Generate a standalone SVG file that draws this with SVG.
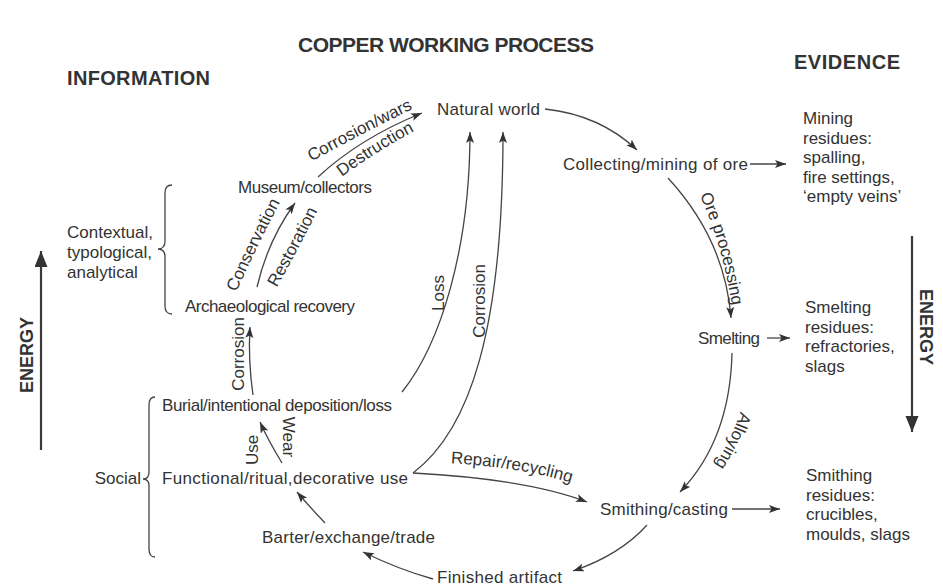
<svg xmlns="http://www.w3.org/2000/svg" width="943" height="587" viewBox="0 0 943 587">
  <style>
    text { font-family: "Liberation Sans", Arial, Helvetica, sans-serif; fill: #333; }
    .lbl { font-size: 17px; }
    .edge { font-size: 17px; }
    .head { font-size: 20px; font-weight: bold; }
    .title { font-size: 21px; font-weight: bold; }
    .energy { font-size: 18px; font-weight: bold; }
    .link { fill: none; stroke: #444; stroke-width: 1.3; marker-end: url(#arrow); }
    .brace { fill: none; stroke: #444; stroke-width: 1.3; }
    .bar { fill: none; stroke: #3a3a3a; stroke-width: 2.2; marker-end: url(#bigarrow); }
  </style>
  <defs>
    <marker id="arrow" markerUnits="userSpaceOnUse" markerWidth="12" markerHeight="9" refX="11" refY="4" orient="auto">
      <path d="M0,0 L11,4 L0,8 L2.5,4 z" fill="#333"/>
    </marker>
    <marker id="bigarrow" markerUnits="userSpaceOnUse" markerWidth="17" markerHeight="14" refX="16" refY="6.5" orient="auto">
      <path d="M0,0 L16,6.5 L0,13 z" fill="#333"/>
    </marker>
    <!-- baselines for the curved edge labels -->
    <path id="p-corrwars" d="M300,168 Q360,134 425,103"/>
    <path id="p-destr" d="M322,192 Q375,150 432,122"/>
    <path id="p-conserv" d="M233,300 Q257,245 284,195"/>
    <path id="p-restor" d="M271,298 Q298,250 323,200"/>
    <path id="p-ore" d="M697,190 Q722,240 733,312"/>
    <path id="p-alloy" d="M744,400 Q733,440 708,475"/>
    <path id="p-repair" d="M443,463 Q520,466 578,485"/>
  </defs>

  <rect width="943" height="587" fill="#fff"/>

  <!-- headings -->
  <text class="title" x="446" y="52" text-anchor="middle" textLength="296">COPPER WORKING PROCESS</text>
  <text class="head" x="67" y="85" textLength="143">INFORMATION</text>
  <text class="head" x="794" y="69" textLength="106">EVIDENCE</text>

  <!-- energy scales -->
  <g id="energy-left">
    <line class="bar" x1="41" y1="450" x2="41" y2="251"/>
    <text class="energy" transform="translate(33,355) rotate(-90)" text-anchor="middle">ENERGY</text>
  </g>
  <g id="energy-right">
    <line class="bar" x1="912" y1="236" x2="912" y2="432"/>
    <text class="energy" transform="translate(920,327) rotate(90)" text-anchor="middle">ENERGY</text>
  </g>

  <!-- information groupings -->
  <g id="info-contextual">
    <text class="lbl" x="67" y="238">Contextual,</text>
    <text class="lbl" x="67" y="258">typological,</text>
    <text class="lbl" x="67" y="278">analytical</text>
    <path class="brace" d="M172,185 Q165,185 165,193 L165,241 Q165,249 158,249 Q165,249 165,257 L165,306 Q165,314 172,314"/>
  </g>
  <g id="info-social">
    <text class="lbl" x="141" y="484" text-anchor="end">Social</text>
    <path class="brace" d="M155,397 Q149,397 149,405 L149,472 Q149,479 143,479 Q149,479 149,486 L149,549 Q149,557 155,557"/>
  </g>

  <!-- process nodes -->
  <g id="n-natural"><text class="lbl" x="437" y="115" textLength="103">Natural world</text></g>
  <g id="n-collecting"><text class="lbl" x="563" y="170" textLength="185">Collecting/mining of ore</text></g>
  <g id="n-smelting"><text class="lbl" x="698" y="344" textLength="62">Smelting</text></g>
  <g id="n-smithing"><text class="lbl" x="600" y="515" textLength="128">Smithing/casting</text></g>
  <g id="n-finished"><text class="lbl" x="437" y="583" textLength="125">Finished artifact</text></g>
  <g id="n-barter"><text class="lbl" x="262" y="543" textLength="173">Barter/exchange/trade</text></g>
  <g id="n-functional"><text class="lbl" x="162" y="484" textLength="246">Functional/ritual,decorative use</text></g>
  <g id="n-burial"><text class="lbl" x="162" y="411" textLength="230">Burial/intentional deposition/loss</text></g>
  <g id="n-archaeological"><text class="lbl" x="185" y="312" textLength="170">Archaeological recovery</text></g>
  <g id="n-museum"><text class="lbl" x="238" y="193" textLength="134">Museum/collectors</text></g>

  <!-- evidence column -->
  <g id="ev-mining">
    <text class="lbl" x="803" y="124">Mining</text>
    <text class="lbl" x="803" y="143.5">residues:</text>
    <text class="lbl" x="803" y="163">spalling,</text>
    <text class="lbl" x="803" y="182.5">fire settings,</text>
    <text class="lbl" x="803" y="202">‘empty veins’</text>
  </g>
  <g id="ev-smelting">
    <text class="lbl" x="805" y="313">Smelting</text>
    <text class="lbl" x="805" y="332.5">residues:</text>
    <text class="lbl" x="805" y="352">refractories,</text>
    <text class="lbl" x="805" y="371.5">slags</text>
  </g>
  <g id="ev-smithing">
    <text class="lbl" x="806" y="481">Smithing</text>
    <text class="lbl" x="806" y="500.5">residues:</text>
    <text class="lbl" x="806" y="520">crucibles,</text>
    <text class="lbl" x="806" y="539.5">moulds, slags</text>
  </g>

  <!-- connectors -->
  <g id="connectors">
    <path class="link" d="M545,109 Q600,115 637,150"/>
    <path class="link" d="M668,178 Q725,240 731,318"/>
    <path class="link" d="M732,353 Q730,440 680,492"/>
    <path class="link" d="M647,525 Q620,555 573,571"/>
    <path class="link" d="M433,579 Q400,570 363,552"/>
    <path class="link" d="M325,523 Q308,505 297,492"/>
    <path class="link" d="M282,463 Q268,440 260,422"/>
    <path class="link" d="M253,395 Q248,360 250,327"/>
    <path class="link" d="M257,287 Q268,240 295,203"/>
    <path class="link" d="M318,177 Q360,138 422,113"/>
    <path class="link" d="M402,392 C440,345 470,250 470,132"/>
    <path class="link" d="M413,473 C470,430 503,330 503,132"/>
    <path class="link" d="M413,473 C470,476 540,484 587,502"/>
    <path class="link" d="M750,164 L786,164"/>
    <path class="link" d="M767,338 L790,338"/>
    <path class="link" d="M732,509 L780,509"/>
  </g>

  <!-- connector labels -->
  <g id="edge-labels">
    <text class="edge"><textPath href="#p-corrwars" startOffset="50%" text-anchor="middle">Corrosion/wars</textPath></text>
    <text class="edge"><textPath href="#p-destr" startOffset="52%" text-anchor="middle">Destruction</textPath></text>
    <text class="edge"><textPath href="#p-conserv" startOffset="50%" text-anchor="middle">Conservation</textPath></text>
    <text class="edge"><textPath href="#p-restor" startOffset="50%" text-anchor="middle">Restoration</textPath></text>
    <text class="edge"><textPath href="#p-ore" startOffset="50%" text-anchor="middle">Ore processing</textPath></text>
    <text class="edge"><textPath href="#p-alloy" startOffset="50%" text-anchor="middle">Alloying</textPath></text>
    <text class="edge"><textPath href="#p-repair" startOffset="50%" text-anchor="middle">Repair/recycling</textPath></text>
    <text class="edge" transform="translate(244,354) rotate(-90)" text-anchor="middle">Corrosion</text>
    <text class="edge" transform="translate(258,450) rotate(-90)" text-anchor="middle">Use</text>
    <text class="edge" transform="translate(283,437) rotate(90)" text-anchor="middle">Wear</text>
    <text class="edge" transform="translate(444,293) rotate(-90)" text-anchor="middle">Loss</text>
    <text class="edge" transform="translate(485,301) rotate(-90)" text-anchor="middle">Corrosion</text>
  </g>
</svg>
